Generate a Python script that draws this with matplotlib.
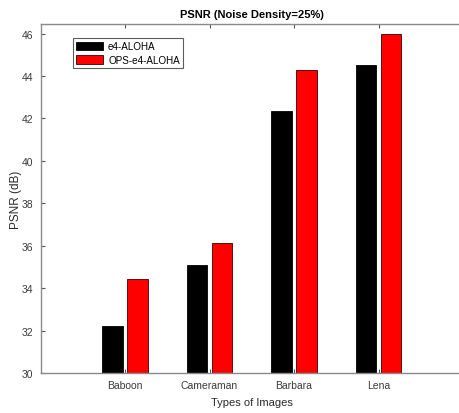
import numpy as np
import matplotlib.pyplot as plt

plt.rcParams['font.family'] = ['Liberation Sans', 'DejaVu Sans']

images = ['Baboon', 'Cameraman', 'Barbara', 'Lena']
e4_aloha = [32.22, 35.1, 42.35, 44.5]
ops_e4_aloha = [34.42, 36.15, 44.3, 46.0]
yticks = [30, 32, 34, 36, 38, 40, 42, 44, 46]

fig = plt.figure(figsize=(4.6, 4.14), dpi=100)
ax = fig.add_axes([40.5 / 460, 40 / 414, 422.5 / 460, 349 / 414])

x = np.arange(1, len(images) + 1)
w = 0.24
ax.bar(x - 0.148, e4_aloha, w, color='black', edgecolor='black', linewidth=0.6, label='e4-ALOHA')
ax.bar(x + 0.148, ops_e4_aloha, w, color='#ff0000', edgecolor='#3a0000', linewidth=0.6, label='OPS-e4-ALOHA')

ax.set_xlim(0, 5)
ax.set_ylim(30, 46.45)
ax.set_xticks(x)
ax.set_xticklabels(images)
ax.set_yticks(yticks)

grey = '#8a8a8a'
for s in ax.spines.values():
    s.set_color(grey)
    s.set_linewidth(1.0)
ax.tick_params(direction='in', length=3, width=0.8, color='#555555',
               labelcolor='#3a3a3a', labelsize=7.5, top=True, right=True, pad=5)

ax.set_title('PSNR (Noise Density=25%)', fontsize=8, fontweight='bold', pad=5)
ax.set_xlabel('Types of Images', fontsize=8, color='#2a2a2a', labelpad=5)
ax.set_ylabel('PSNR (dB)', fontsize=8.5, color='#2a2a2a', labelpad=0)

leg = ax.legend(loc='upper left', bbox_to_anchor=(0.077, 0.96), fontsize=7.1,
                frameon=True, fancybox=False, edgecolor='#333333',
                handlelength=2.7, handleheight=1.0, handletextpad=0.5,
                borderpad=0.35, labelspacing=0.35, borderaxespad=0)
leg.get_frame().set_linewidth(0.8)

fig.savefig('out.png', dpi=100)
